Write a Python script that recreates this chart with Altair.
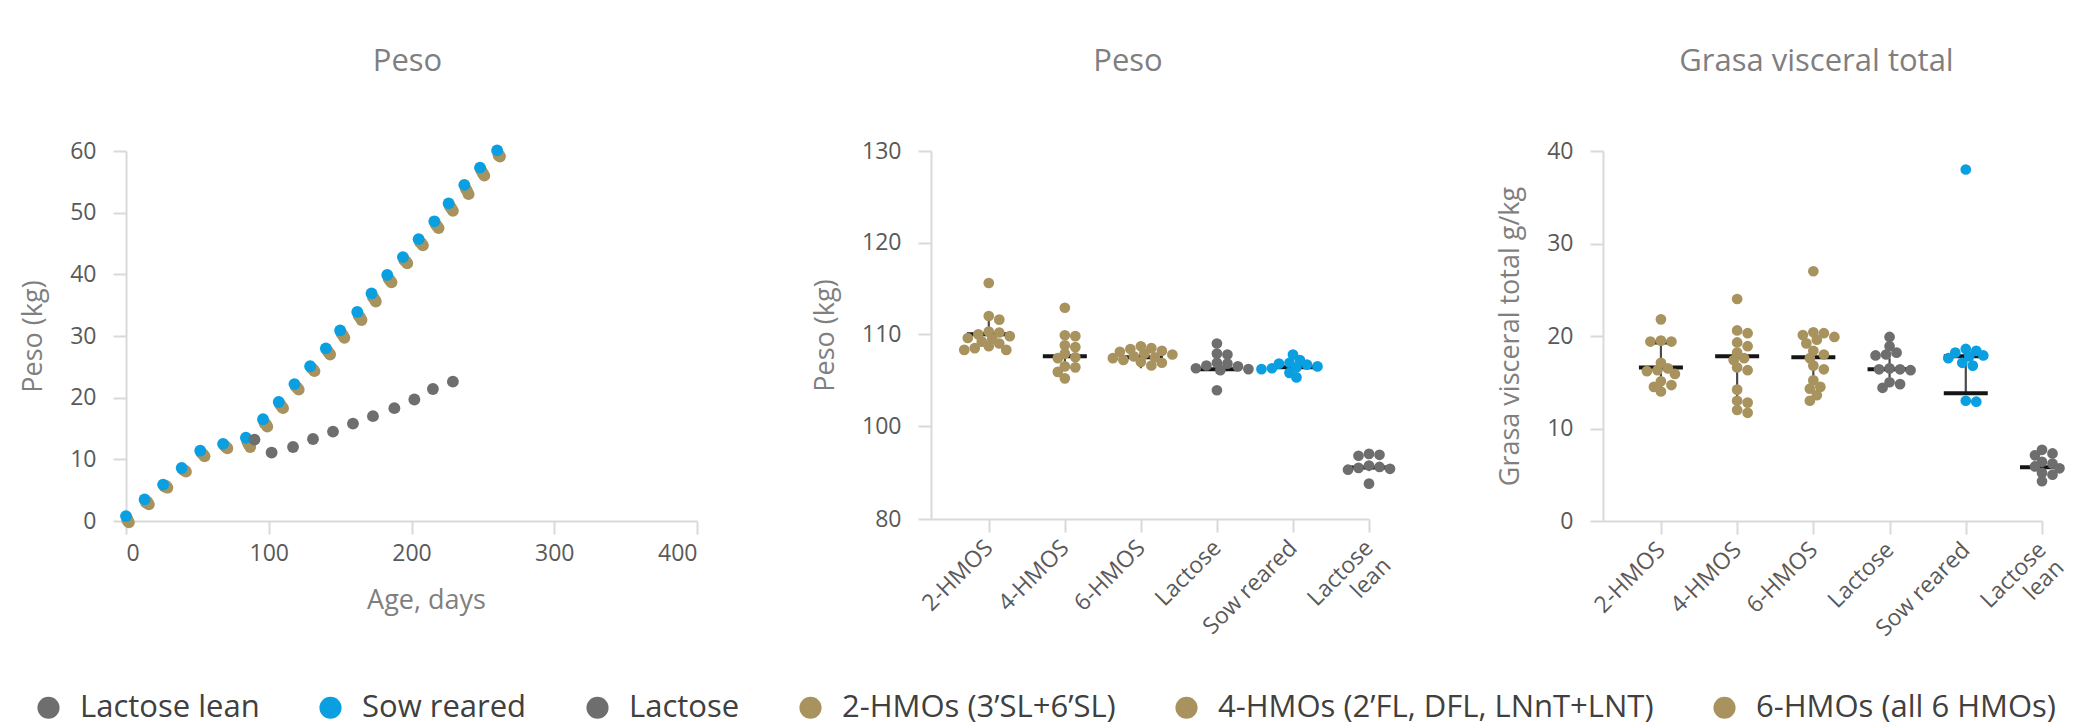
import altair as alt
import pandas as pd

FONT = "Open Sans"
LABEL_C = "#595959"
TITLE_C = "#7f7f7f"
LINE_C = "#d9d9d9"

# ---------------- legend / groups ----------------
legend_names = ["Lactose lean", "Sow reared", "Lactose",
                "2-HMOs (3’SL+6’SL)", "4-HMOs (2’FL, DFL, LNnT+LNT)", "6-HMOs (all 6 HMOs)"]
legend_colors = ["#6e6e6e", "#0a9fe0", "#6e6e6e", "#a8935f", "#a8935f", "#a8935f"]

categories = ["2-HMOS", "4-HMOS", "6-HMOS", "Lactose", "Sow reared", "Lactose lean"]
cat_groups = ["2-HMOs (3’SL+6’SL)", "4-HMOs (2’FL, DFL, LNnT+LNT)", "6-HMOs (all 6 HMOs)",
              "Lactose", "Sow reared", "Lactose lean"]

# ---------------- panel 1: growth curves ----------------
sow_days = [0, 13, 26, 39, 52, 68, 84, 96, 107, 118, 129, 140, 150, 162, 172, 183, 194, 205, 216, 226, 237, 248, 260]
sow_kg = [0.8, 3.5, 5.9, 8.6, 11.4, 12.5, 13.5, 16.5, 19.3, 22.2, 25.1, 28.0, 30.9, 33.9, 36.9, 39.9, 42.8, 45.7, 48.6, 51.5, 54.5, 57.3, 60.1]
hmo2_days = [2, 16, 29, 42, 55, 71, 87, 99, 110, 121, 132, 143, 153, 165, 175, 186, 197, 208, 219, 229, 240, 251, 262]
hmo2_kg = [-0.2, 2.7, 5.4, 8.0, 10.5, 11.8, 12.0, 15.3, 18.3, 21.3, 24.3, 27.0, 29.7, 32.6, 35.6, 38.7, 41.8, 44.7, 47.5, 50.3, 53.0, 56.0, 59.1]
hmo4_days = [1, 14, 27, 41, 54, 70, 86, 98, 109, 120, 131, 142, 152, 164, 174, 185, 196, 207, 218, 228, 239, 250, 261]
hmo4_kg = [0.1, 3.0, 5.6, 8.2, 10.8, 12.0, 12.4, 15.7, 18.6, 21.6, 24.6, 27.3, 30.1, 33.0, 36.0, 39.0, 42.1, 45.0, 47.8, 50.7, 53.5, 56.4, 59.3]
hmo6_days = [1, 15, 28, 40, 53, 69, 85, 97, 108, 119, 130, 141, 151, 163, 173, 184, 195, 206, 217, 227, 238, 249, 261]
hmo6_kg = [0.3, 3.1, 5.7, 8.3, 11.0, 12.2, 12.8, 15.9, 18.9, 21.8, 24.8, 27.6, 30.4, 33.3, 36.3, 39.3, 42.3, 45.2, 48.1, 51.0, 53.9, 56.8, 59.5]
lean_days = [90, 102, 117, 131, 145, 159, 173, 188, 202, 215, 229]
lean_kg = [13.2, 11.1, 12.0, 13.3, 14.5, 15.8, 17.0, 18.3, 19.7, 21.4, 22.6]

# ---------------- panel 2: final body weight (kg) ----------------
peso_vals = {
    "2-HMOS": [115.6, 112.0, 111.6, 110.3, 110.2, 110.0, 109.8, 109.6, 109.5, 109.2, 109.0, 108.7, 108.5, 108.3, 108.3],
    "4-HMOS": [112.9, 109.9, 109.8, 108.8, 108.6, 107.9, 107.5, 107.4, 106.5, 106.4, 105.9, 105.2],
    "6-HMOS": [108.7, 108.5, 108.4, 108.2, 108.1, 107.9, 107.8, 107.6, 107.5, 107.4, 107.2, 107.0, 106.9, 106.6],
    "Lactose": [109.0, 107.9, 107.8, 106.9, 106.8, 106.6, 106.5, 106.3, 106.2, 106.1, 103.9],
    "Sow reared": [107.8, 107.2, 106.9, 106.8, 106.7, 106.5, 106.4, 106.3, 106.2, 105.8, 105.3],
    "Lactose lean": [94.0, 93.8, 93.6, 91.5, 91.2, 91.0, 90.8, 90.6, 87.6],
}
peso_mid = [110.0, 107.6, 107.5, 106.2, 106.4, 91.1]
peso_lo = [108.6, 106.0, 106.3, 105.7, 105.4, 90.3]
peso_hi = [111.5, 108.6, 109.0, 107.6, 108.0, 92.5]
peso_ticks = [80, 100, 110, 120, 130]

# ---------------- panel 3: visceral fat (g/kg) ----------------
grasa_vals = {
    "2-HMOS": [21.8, 19.5, 19.4, 19.4, 17.1, 16.5, 16.3, 16.2, 15.9, 15.1, 14.7, 14.5, 14.0],
    "4-HMOS": [24.0, 20.6, 20.3, 19.3, 18.9, 18.2, 17.6, 17.4, 16.6, 16.3, 14.2, 13.0, 12.8, 12.0, 11.7],
    "6-HMOS": [27.0, 20.4, 20.3, 20.1, 19.9, 19.6, 19.2, 18.4, 18.0, 17.6, 16.8, 16.4, 15.2, 14.5, 14.3, 13.6, 13.0],
    "Lactose": [19.9, 18.9, 18.2, 18.0, 17.9, 16.5, 16.4, 16.4, 16.3, 15.0, 14.8, 14.4],
    "Sow reared": [38.0, 18.6, 18.4, 18.2, 17.9, 17.8, 17.6, 17.1, 16.8, 13.0, 12.9],
    "Lactose lean": [7.7, 7.3, 7.1, 6.4, 6.2, 5.9, 5.7, 5.2, 5.0, 4.3],
}
grasa_mid_cat = ["2-HMOS", "4-HMOS", "6-HMOS", "Lactose", "Sow reared", "Sow reared", "Lactose lean"]
grasa_mid = [16.6, 17.8, 17.7, 16.4, 17.8, 13.8, 5.8]
grasa_lo = [14.3, 13.2, 15.0, 15.5, 13.8, 5.2]
grasa_hi = [19.3, 18.3, 18.7, 17.6, 19.1, 6.6]
grasa_cap_cat = ["2-HMOS"]
grasa_cap = [19.3]

# ---------------- layout sizes ----------------
W1, H1 = 571, 370
W2, H2 = 438, 368
W3, H3 = 439, 370
P2_RANGE = [H2, 275, 0]


def swarm(values, to_px, diam=8.0, step=3.5):
    """Beeswarm horizontal offsets (pixels) so that dots do not pile up."""
    placed, offs = [], []
    cands = [0.0]
    for i in range(1, 30):
        cands += [i * step, -i * step]
    for v in values:
        y = to_px(v)
        chosen = cands[-1]
        for c in cands:
            if all((c - o) ** 2 + (y - py) ** 2 >= diam ** 2 for py, o in placed):
                chosen = c
                break
        placed.append((y, chosen))
        offs.append(chosen)
    return offs


def px2(v):
    if v >= 100:
        return (130 - v) * 275 / 30
    return 275 + (100 - v) * (H2 - 275) / 20


def px3(v):
    return (40 - v) * H3 / 40


color_scale = alt.Scale(domain=legend_names, range=legend_colors)

# ---------- panel 1 ----------
rows = []
for grp, days, kgs, z in [(legend_names[3], hmo2_days, hmo2_kg, 0),
                          (legend_names[4], hmo4_days, hmo4_kg, 0),
                          (legend_names[5], hmo6_days, hmo6_kg, 0),
                          ("Sow reared", sow_days, sow_kg, 1),
                          ("Lactose lean", lean_days, lean_kg, 2)]:
    for d, k in zip(days, kgs):
        rows.append({"day": d, "kg": k, "group": grp, "z": z})
df1 = pd.DataFrame(rows)

p1 = alt.Chart(df1).mark_circle(size=140, opacity=1).encode(
    x=alt.X("day:Q", scale=alt.Scale(domain=[0, 400], nice=False, zero=False),
            axis=alt.Axis(values=[0, 100, 200, 300, 400], title="Age, days",
                          labelPadding=8, titlePadding=22, titleX=300)),
    y=alt.Y("kg:Q", scale=alt.Scale(domain=[0, 60], nice=False),
            axis=alt.Axis(values=[0, 10, 20, 30, 40, 50, 60], title="Peso (kg)",
                          labelPadding=17, titlePadding=22)),
    color=alt.Color("group:N", scale=color_scale,
                    legend=alt.Legend(orient="none", legendX=-93, legendY=541, direction="horizontal",
                                      title=None, symbolType="circle", symbolSize=490,
                                      symbolOpacity=1, symbolStrokeWidth=0,
                                      labelFont=FONT, labelFontSize=31, labelColor="#404040",
                                      labelOffset=16, columnPadding=55, labelLimit=800)),
    order=alt.Order("z:Q"),
).properties(width=W1, height=H1,
             title=alt.TitleParams("Peso", dx=-4))


def swarm_panel(vals, mids_cat, mids, lo, hi, caps_cat, caps, yscale, yaxis, to_px, w, h, title, tdx):
    drows = []
    for cat, grp in zip(categories, cat_groups):
        vs = vals[cat]
        offs = swarm(vs, to_px)
        for v, o in zip(vs, offs):
            drows.append({"cat": cat, "group": grp, "val": v, "off": o})
    ddf = pd.DataFrame(drows)
    mdf = pd.DataFrame({"cat": mids_cat, "val": mids})
    edf = pd.DataFrame({"cat": categories, "lo": lo, "hi": hi})
    cdf = pd.DataFrame({"cat": caps_cat, "val": caps})

    xs = alt.Scale(domain=categories, type="point", padding=0.38, align=1)
    xaxis = alt.Axis(title=None, labelAngle=315, labelAlign="right", labelBaseline="middle",
                     labelPadding=12, labelFontSize=23,
                     labelExpr="datum.value == 'Lactose lean' ? ['Lactose', 'lean'] : datum.label")
    x = alt.X("cat:N", scale=xs, axis=xaxis, sort=categories)
    x_plain = alt.X("cat:N", scale=xs, sort=categories)

    rules = alt.Chart(edf).mark_rule(color="#4a4a4a", strokeWidth=2.2).encode(
        x=x, y=alt.Y("lo:Q", scale=yscale, axis=yaxis), y2="hi:Q")
    meds = alt.Chart(mdf).mark_tick(color="#151515", thickness=4, size=44, opacity=1).encode(
        x=x_plain, y=alt.Y("val:Q", scale=yscale))
    capm = alt.Chart(cdf).mark_tick(color="#151515", thickness=4, size=24, opacity=1).encode(
        x=x_plain, y=alt.Y("val:Q", scale=yscale))
    dots = alt.Chart(ddf).mark_circle(size=115, opacity=1).encode(
        x=x_plain,
        xOffset=alt.XOffset("off:Q", scale=alt.Scale(domain=[-60, 60], range=[-60, 60])),
        y=alt.Y("val:Q", scale=yscale),
        color=alt.Color("group:N", scale=color_scale, legend=None))
    return alt.layer(rules, meds, capm, dots).properties(
        width=w, height=h, title=alt.TitleParams(title, dx=tdx))


p2 = swarm_panel(peso_vals, categories, peso_mid, peso_lo, peso_hi, [], [],
                 alt.Scale(domain=[80, 100, 130], range=P2_RANGE, nice=False, zero=False),
                 alt.Axis(values=peso_ticks, title="Peso (kg)", labelPadding=17, titlePadding=22),
                 px2, W2, H2, "Peso", -22)
p3 = swarm_panel(grasa_vals, grasa_mid_cat, grasa_mid, grasa_lo, grasa_hi, grasa_cap_cat, grasa_cap,
                 alt.Scale(domain=[0, 40], nice=False),
                 alt.Axis(values=[0, 10, 20, 30, 40], title="Grasa visceral total g/kg",
                          labelPadding=17, titlePadding=22),
                 px3, W3, H3, "Grasa visceral total", -6)

chart = alt.hconcat(p1, p2, p3, spacing=234, bounds="flush").resolve_scale(
    color="shared"
).properties(
    padding={"left": 11, "top": 38, "right": 5, "bottom": 5}
).configure(font=FONT).configure_view(stroke=None).configure_axis(
    domainColor=LINE_C, domainWidth=2, tickColor=LINE_C, tickWidth=2, tickSize=13,
    labelColor=LABEL_C, labelFont=FONT, labelFontSize=23,
    titleColor=TITLE_C, titleFont=FONT, titleFontSize=27, titleFontWeight="normal", grid=False
).configure_title(
    font=FONT, fontSize=31, color=TITLE_C, fontWeight="normal", anchor="middle", offset=62
)

chart.save("out.html", embed_options={"renderer": "svg", "actions": False})
